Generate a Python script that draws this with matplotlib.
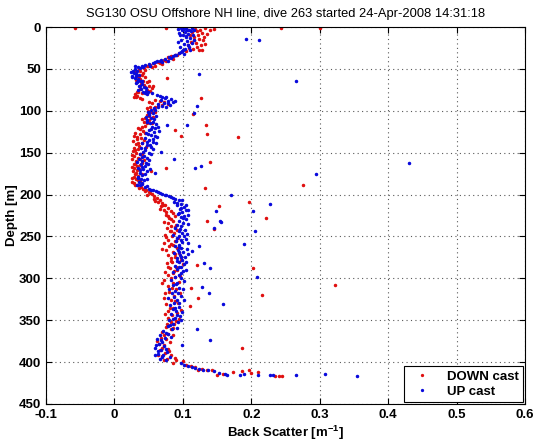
import matplotlib
matplotlib.use("Agg")
import matplotlib.pyplot as plt
import matplotlib.ticker as ticker

# Glider back scatter profile, dive 263
title = "SG130 OSU Offshore NH line, dive 263 started 24-Apr-2008 14:31:18"

# (back scatter [1/m], depth [m])
down_cast = [
    (-0.057, 1), (-0.031, 1), (0.076, 1), (0.244, 1), (0.300, 1),
    (0.118, 2), (0.125, 3), (0.132, 1), (0.140, 4), (0.145, 2), (0.113, 6), (0.128, 7),
    (0.121, 5), (0.135, 8), (0.110, 9),
    (0.117, 12), (0.124, 14), (0.130, 16), (0.112, 18), (0.119, 19), (0.126, 21), (0.108, 22),
    (0.121, 24), (0.115, 26), (0.128, 27), (0.104, 29),
    (0.095, 31), (0.088, 33), (0.083, 35), (0.078, 36), (0.085, 38), (0.072, 39), (0.068, 40),
    (0.076, 41), (0.063, 42), (0.058, 43), (0.070, 44),
    (0.052, 45), (0.047, 47), (0.041, 48), (0.036, 50), (0.044, 51), (0.038, 53), (0.032, 55),
    (0.040, 57), (0.034, 59), (0.045, 60), (0.077, 61), (0.037, 62),
    (0.042, 64), (0.048, 66), (0.039, 68), (0.051, 70), (0.044, 72), (0.055, 73), (0.047, 75),
    (0.035, 77), (0.040, 79), (0.030, 80),
    (0.033, 82), (0.028, 84), (0.038, 85), (0.126, 85), (0.060, 87), (0.066, 88), (0.072, 90),
    (0.055, 91), (0.078, 92), (0.064, 94),
    (0.052, 96), (0.058, 98), (0.049, 100), (0.054, 102), (0.115, 104), (0.047, 105),
    (0.056, 107), (0.044, 109), (0.051, 111), (0.043, 113), (0.048, 115), (0.134, 117),
    (0.089, 123), (0.135, 128), (0.181, 131), (0.097, 130), (0.040, 119), (0.035, 121),
    (0.042, 124), (0.030, 126), (0.037, 128), (0.028, 130), (0.039, 132), (0.033, 134),
    (0.027, 136), (0.041, 138), (0.031, 140), (0.036, 142), (0.029, 144), (0.034, 146),
    (0.027, 148), (0.032, 150), (0.038, 152), (0.029, 154), (0.035, 156), (0.139, 161),
    (0.026, 158), (0.031, 160), (0.040, 162), (0.028, 164), (0.075, 168), (0.033, 166),
    (0.029, 168), (0.036, 170), (0.054, 172), (0.027, 172), (0.032, 174), (0.030, 176),
    (0.034, 178),
    (0.026, 180), (0.031, 182), (0.037, 184), (0.028, 186), (0.276, 188), (0.133, 192),
    (0.033, 189), (0.039, 191), (0.042, 193), (0.046, 195), (0.050, 197), (0.055, 199),
    (0.048, 200), (0.058, 202), (0.197, 209), (0.221, 228),
    (0.062, 204), (0.066, 206), (0.060, 208), (0.070, 210), (0.074, 212), (0.068, 214),
    (0.078, 216), (0.153, 214), (0.072, 218), (0.082, 220), (0.085, 222), (0.076, 224),
    (0.088, 226), (0.080, 228), (0.136, 232),
    (0.086, 231), (0.079, 234), (0.090, 236), (0.083, 238), (0.077, 240), (0.092, 242),
    (0.145, 241), (0.081, 244), (0.087, 246), (0.074, 248), (0.084, 250), (0.093, 252),
    (0.078, 254), (0.088, 256), (0.072, 258), (0.085, 260),
    (0.080, 262), (0.091, 264), (0.076, 266), (0.086, 268), (0.094, 270), (0.079, 272),
    (0.203, 288), (0.089, 274), (0.082, 276), (0.097, 278), (0.084, 280), (0.077, 282),
    (0.120, 284), (0.090, 286), (0.081, 288), (0.092, 290), (0.074, 292), (0.086, 294),
    (0.079, 296), (0.089, 298), (0.083, 300), (0.072, 302), (0.095, 304), (0.323, 308),
    (0.216, 320), (0.085, 306), (0.078, 309), (0.112, 311), (0.090, 313), (0.080, 316),
    (0.074, 318), (0.087, 321), (0.122, 324), (0.082, 326), (0.093, 329), (0.076, 331),
    (0.110, 333), (0.086, 336), (0.079, 339),
    (0.091, 341), (0.084, 344), (0.078, 347), (0.095, 349), (0.082, 352), (0.087, 355),
    (0.075, 358), (0.083, 361), (0.070, 364), (0.079, 366), (0.086, 368), (0.068, 371),
    (0.076, 373), (0.081, 376), (0.065, 378), (0.072, 380), (0.187, 383), (0.079, 384),
    (0.066, 386), (0.074, 389), (0.083, 391), (0.069, 393), (0.077, 396), (0.090, 398),
    (0.085, 401), (0.100, 399),
    (0.105, 403), (0.112, 405), (0.118, 406), (0.128, 408), (0.135, 409), (0.142, 410),
    (0.150, 415), (0.158, 414), (0.173, 412), (0.187, 411), (0.196, 410), (0.200, 413),
    (0.235, 416), (0.245, 417), (0.240, 416), (0.122, 409), (0.210, 412),
    # second pass through the same band
    (0.107, 3), (0.122, 10), (0.131, 12), (0.116, 15), (0.109, 25), (0.123, 28), (0.133, 20),
    (0.091, 34), (0.080, 37), (0.066, 43), (0.060, 46), (0.049, 46), (0.043, 49), (0.055, 48),
    (0.030, 52), (0.042, 55), (0.036, 58), (0.031, 63), (0.050, 65), (0.043, 69), (0.057, 71),
    (0.038, 74), (0.052, 76), (0.033, 78),
    (0.031, 83), (0.041, 86), (0.051, 89), (0.069, 93), (0.060, 95), (0.047, 97),
    (0.060, 101), (0.050, 106), (0.041, 110), (0.055, 114), (0.045, 118), (0.038, 122),
    (0.044, 127), (0.033, 131), (0.043, 135), (0.035, 139), (0.046, 143),
    (0.030, 147), (0.041, 151), (0.026, 153), (0.037, 157), (0.043, 159), (0.030, 163),
    (0.037, 165), (0.025, 167), (0.033, 171), (0.040, 175), (0.028, 179), (0.035, 183),
    (0.025, 185), (0.030, 188),
    (0.036, 192), (0.044, 196), (0.052, 198), (0.058, 205), (0.064, 209), (0.071, 213),
    (0.066, 217), (0.075, 221), (0.079, 225), (0.083, 229),
    (0.073, 233), (0.089, 239), (0.082, 243), (0.076, 251), (0.090, 255), (0.082, 259),
    (0.070, 265), (0.088, 271), (0.097, 275), (0.083, 279), (0.100, 283), (0.079, 287),
    (0.087, 291), (0.096, 297),
    (0.070, 305), (0.084, 312), (0.096, 317), (0.072, 323), (0.089, 327), (0.081, 335),
    (0.097, 338), (0.074, 343), (0.090, 351), (0.077, 354), (0.085, 359), (0.073, 368),
    (0.062, 375), (0.070, 383), (0.080, 387), (0.064, 392), (0.073, 397), (0.088, 395),
]

up_cast = [
    (0.097, 1), (0.101, 2), (0.105, 1), (0.109, 3), (0.099, 4), (0.112, 5), (0.103, 6),
    (0.107, 8), (0.095, 7), (0.115, 9), (0.100, 10), (0.193, 14), (0.212, 15),
    (0.104, 12), (0.110, 13), (0.098, 15), (0.106, 17), (0.113, 19), (0.101, 20), (0.108, 22),
    (0.096, 24), (0.103, 26), (0.111, 27), (0.099, 29),
    (0.094, 31), (0.102, 32), (0.090, 33), (0.086, 35), (0.080, 36), (0.074, 38), (0.068, 39),
    (0.078, 40), (0.062, 41), (0.070, 42), (0.056, 43), (0.050, 44),
    (0.045, 45), (0.040, 46), (0.035, 48), (0.030, 50), (0.027, 52), (0.033, 53), (0.029, 55),
    (0.123, 56), (0.036, 57), (0.031, 59), (0.026, 60), (0.034, 62), (0.265, 64),
    (0.038, 64), (0.033, 66), (0.041, 68), (0.036, 70), (0.043, 72), (0.039, 74), (0.046, 76),
    (0.042, 78), (0.048, 80),
    (0.062, 81), (0.070, 83), (0.076, 84), (0.083, 86), (0.068, 87), (0.079, 88), (0.086, 90),
    (0.072, 91), (0.064, 92), (0.081, 93), (0.120, 94), (0.075, 95),
    (0.058, 97), (0.053, 99), (0.049, 101), (0.117, 103), (0.056, 103), (0.051, 105),
    (0.046, 107), (0.054, 109), (0.048, 111), (0.057, 113), (0.052, 115), (0.077, 117),
    (0.106, 117),
    (0.055, 119), (0.060, 121), (0.050, 123), (0.058, 125), (0.046, 127), (0.053, 129),
    (0.062, 131), (0.044, 133), (0.051, 135), (0.057, 137), (0.041, 139), (0.048, 141),
    (0.054, 143), (0.039, 145), (0.068, 149),
    (0.045, 147), (0.050, 150), (0.038, 152), (0.043, 154), (0.048, 156), (0.087, 158),
    (0.036, 158), (0.041, 160), (0.046, 162), (0.430, 162), (0.039, 164), (0.118, 168),
    (0.127, 166), (0.044, 166), (0.035, 168), (0.042, 170), (0.047, 172), (0.060, 174),
    (0.037, 174), (0.295, 176), (0.040, 177),
    (0.034, 179), (0.039, 181), (0.043, 183), (0.036, 185), (0.041, 187), (0.038, 189),
    (0.044, 191), (0.050, 193), (0.057, 195), (0.064, 197), (0.070, 199), (0.171, 201),
    (0.076, 201), (0.083, 203),
    (0.089, 205), (0.094, 207), (0.087, 209), (0.098, 211), (0.228, 211), (0.092, 213),
    (0.101, 215), (0.096, 217), (0.104, 219), (0.202, 220), (0.148, 220), (0.099, 221),
    (0.093, 223), (0.102, 225), (0.097, 227), (0.105, 229),
    (0.155, 231), (0.156, 233), (0.095, 232), (0.100, 234), (0.091, 236), (0.098, 238),
    (0.146, 240), (0.205, 243), (0.088, 240), (0.103, 242), (0.094, 244), (0.099, 246),
    (0.086, 248), (0.101, 250), (0.092, 252), (0.097, 254), (0.090, 256), (0.107, 258),
    (0.190, 259), (0.095, 260),
    (0.123, 261), (0.088, 262), (0.098, 264), (0.093, 266), (0.113, 267), (0.100, 268),
    (0.087, 270), (0.096, 272), (0.103, 274), (0.091, 276), (0.099, 278), (0.131, 282),
    (0.094, 280), (0.101, 283), (0.089, 285), (0.097, 287), (0.139, 288), (0.092, 289),
    (0.100, 291), (0.086, 293),
    (0.208, 299), (0.094, 296), (0.088, 298), (0.097, 300), (0.083, 302), (0.091, 305),
    (0.128, 310), (0.086, 308), (0.094, 311), (0.080, 313), (0.138, 318), (0.089, 315),
    (0.084, 318), (0.098, 321), (0.079, 324), (0.092, 326), (0.158, 331), (0.087, 329),
    (0.081, 332), (0.095, 334), (0.085, 337), (0.090, 339),
    (0.083, 342), (0.096, 345), (0.089, 347), (0.080, 350), (0.093, 352), (0.086, 355),
    (0.121, 360), (0.078, 357), (0.084, 360), (0.071, 363), (0.079, 366), (0.066, 368),
    (0.074, 371), (0.140, 374), (0.062, 373), (0.070, 376), (0.099, 380), (0.065, 378),
    (0.073, 381), (0.060, 383), (0.068, 386), (0.077, 388), (0.063, 390), (0.071, 392),
    (0.081, 394), (0.066, 396),
    (0.098, 401), (0.102, 403), (0.108, 405), (0.113, 406), (0.118, 407), (0.124, 408),
    (0.130, 409), (0.137, 410), (0.146, 411), (0.153, 413), (0.162, 414), (0.165, 415),
    (0.184, 415), (0.190, 414), (0.210, 415), (0.228, 415), (0.232, 415), (0.265, 415),
    (0.307, 414), (0.355, 416),
    # second pass through the same band
    (0.093, 2), (0.113, 1), (0.117, 3), (0.106, 4), (0.096, 10), (0.104, 11), (0.116, 16),
    (0.093, 18), (0.109, 24), (0.100, 28),
    (0.097, 30), (0.088, 34), (0.083, 37), (0.066, 40), (0.059, 42), (0.052, 46), (0.042, 48),
    (0.037, 49), (0.030, 47),
    (0.024, 54), (0.031, 56), (0.025, 58), (0.030, 61), (0.035, 63), (0.040, 65), (0.031, 67),
    (0.038, 71), (0.046, 73), (0.035, 75), (0.049, 77), (0.044, 79), (0.055, 79),
    (0.066, 82), (0.074, 85), (0.089, 88), (0.078, 91), (0.069, 94), (0.063, 96), (0.060, 99),
    (0.050, 103), (0.061, 106), (0.058, 110), (0.047, 113), (0.061, 116), (0.063, 119),
    (0.054, 122), (0.065, 124), (0.049, 128), (0.059, 130), (0.056, 134), (0.047, 137),
    (0.061, 139),
    (0.052, 141), (0.044, 144), (0.056, 146), (0.042, 149), (0.053, 152), (0.040, 155),
    (0.051, 159), (0.033, 161), (0.049, 164), (0.041, 167), (0.052, 169), (0.038, 171),
    (0.045, 176), (0.035, 180), (0.047, 182), (0.040, 186), (0.033, 188),
    (0.047, 190), (0.054, 194), (0.061, 196), (0.067, 198), (0.074, 200), (0.080, 202),
    (0.086, 204), (0.099, 206), (0.092, 210), (0.105, 212), (0.098, 216), (0.108, 218),
    (0.094, 222), (0.107, 224), (0.100, 228),
    (0.108, 235), (0.096, 241), (0.106, 247), (0.094, 249), (0.104, 253), (0.099, 257),
    (0.094, 263), (0.106, 265), (0.095, 269), (0.108, 271), (0.098, 275), (0.092, 279),
    (0.104, 281), (0.095, 286), (0.105, 290), (0.097, 294),
    (0.102, 303), (0.090, 307), (0.100, 313), (0.093, 317), (0.087, 322), (0.101, 326),
    (0.094, 330), (0.088, 336), (0.099, 340), (0.091, 344), (0.085, 348), (0.097, 350),
    (0.081, 356), (0.091, 359), (0.076, 365), (0.083, 370), (0.068, 374), (0.061, 380),
    (0.075, 384), (0.064, 387), (0.059, 391), (0.069, 394), (0.075, 398),
]

x_ticks = [-0.1, 0, 0.1, 0.2, 0.3, 0.4, 0.5, 0.6]
y_ticks = [0, 50, 100, 150, 200, 250, 300, 350, 400, 450]

plt.rcParams["font.family"] = ["Liberation Sans", "DejaVu Sans"]
plt.rcParams["mathtext.fontset"] = "custom"
plt.rcParams["mathtext.rm"] = "Liberation Sans"
plt.rcParams["mathtext.bf"] = "Liberation Sans:bold"
plt.rcParams["mathtext.default"] = "bf"

fontSize = 9.5

fig = plt.figure(figsize=(5.37, 4.42), dpi=100)
ax = fig.add_axes([46 / 537, 1 - 404 / 442, 479 / 537, 377 / 442])

down_x, down_depth = zip(*down_cast)
up_x, up_depth = zip(*up_cast)

ax.plot(down_x, down_depth, ls="none", marker=".", markersize=3.0,
        color="#e01010", label="DOWN cast")
ax.plot(up_x, up_depth, ls="none", marker=".", markersize=3.0,
        color="#0a0adc", label="UP cast")

ax.set_xlim(-0.1, 0.6)
ax.set_ylim(450, 0)
ax.set_xticks(x_ticks)
ax.set_yticks(y_ticks)
ax.xaxis.set_major_formatter(ticker.FuncFormatter(lambda v, p: "%g" % round(v, 2)))

ax.grid(True, linestyle=(0, (1, 3)), color="0.35", linewidth=0.8)
ax.tick_params(direction="in", top=True, right=True, length=4, width=0.8,
               labelsize=fontSize)
for lab in ax.get_xticklabels() + ax.get_yticklabels():
    lab.set_fontweight("bold")
for s in ax.spines.values():
    s.set_linewidth(0.8)

ax.set_title(title, fontsize=9.3, pad=7)
ax.set_ylabel("Depth [m]", fontsize=fontSize, fontweight="bold", labelpad=1)
ax.set_xlabel(r"Back Scatter [m$^{-1}$]", fontsize=fontSize, fontweight="bold",
              labelpad=2)

leg = ax.legend(loc="lower right", prop={"weight": "bold", "size": fontSize},
                markerscale=0.9, fancybox=False, framealpha=1, edgecolor="black",
                borderaxespad=0.15, handlelength=2.2, handletextpad=0.8,
                borderpad=0.3, labelspacing=0.25)
leg.get_frame().set_linewidth(0.8)

fig.savefig("out.png", dpi=100)
